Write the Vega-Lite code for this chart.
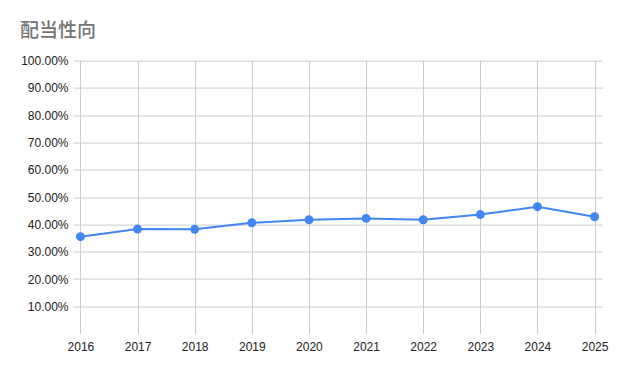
{
  "$schema": "https://vega.github.io/schema/vega-lite/v6.json",
  "width": 529,
  "height": 273,
  "autosize": {"type": "none"},
  "padding": {"left": 73, "top": 60.6, "right": 18, "bottom": 37.4},
  "background": "#ffffff",
  "title": {
    "text": "配当性向",
    "anchor": "start",
    "frame": "group",
    "dx": -53,
    "offset": 14,
    "font": "Noto Sans CJK JP",
    "fontSize": 19,
    "fontWeight": 500,
    "color": "#757575"
  },
  "config": {
    "view": {"stroke": null},
    "axis": {"labelFont": "Liberation Sans", "labelFontSize": 12, "labelColor": "#222222", "gridColor": "#cccccc", "gridWidth": 1}
  },
  "data": {
    "values": [
      {"year": "2016", "payout": 0.355},
      {"year": "2017", "payout": 0.383},
      {"year": "2018", "payout": 0.382},
      {"year": "2019", "payout": 0.406},
      {"year": "2020", "payout": 0.417},
      {"year": "2021", "payout": 0.422},
      {"year": "2022", "payout": 0.417},
      {"year": "2023", "payout": 0.436},
      {"year": "2024", "payout": 0.465},
      {"year": "2025", "payout": 0.428}
    ]
  },
  "mark": {"type": "line", "color": "#4285F4", "strokeWidth": 2, "point": {"filled": true, "size": 80, "color": "#4285F4", "opacity": 1}},
  "encoding": {
    "x": {
      "field": "year",
      "type": "ordinal",
      "scale": {"type": "point", "padding": 0.13},
      "axis": {"title": null, "labelAngle": 0, "domain": false, "ticks": false, "grid": true, "labelPadding": 8}
    },
    "y": {
      "field": "payout",
      "type": "quantitative",
      "scale": {"domain": [0, 1], "nice": false},
      "axis": {"title": null, "values": [0.1, 0.2, 0.3, 0.4, 0.5, 0.6, 0.7, 0.8, 0.9, 1.0], "format": ".2%", "domain": false, "ticks": false, "labelPadding": 5, "grid": true}
    }
  }
}
